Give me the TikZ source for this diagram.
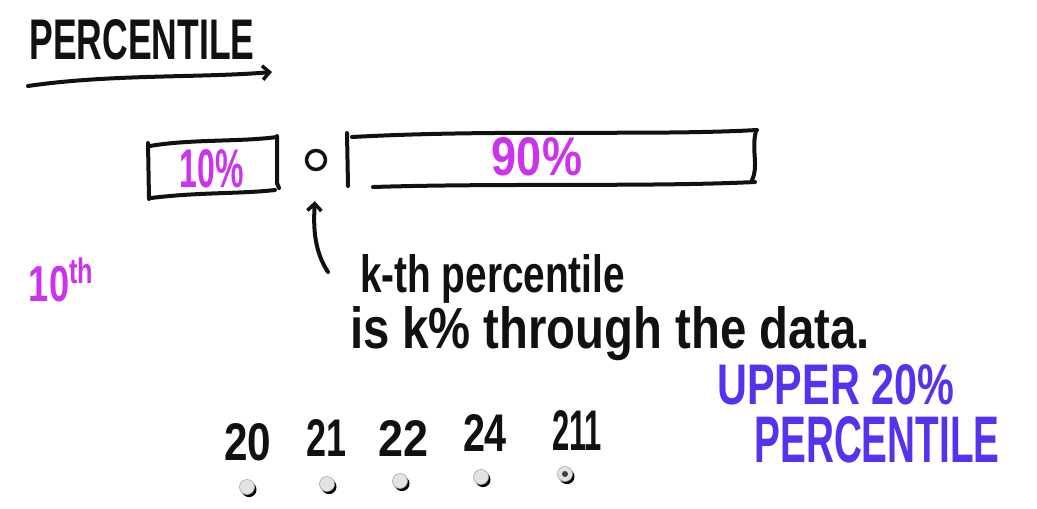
\documentclass[tikz,border=0pt]{standalone}
\usepackage{fontspec}
\setmainfont{Liberation Sans}
\usetikzlibrary{arrows.meta,shadows}
\definecolor{mag}{HTML}{CC33EE}
\definecolor{vio}{HTML}{5533EE}
\definecolor{ink}{HTML}{111111}
\newcommand\fitbox[3]{\resizebox{#1pt}{#2pt}{\bfseries #3}}
\begin{document}
\begin{tikzpicture}[x=1pt,y=-1pt,
  pen/.style={line width=4pt, line cap=round, line join=round, draw=ink},
  txt/.style={inner sep=0pt, outer sep=0pt},
  dotn/.style={circle, fill=gray!22, draw=gray!70, line width=0.6pt, minimum size=15pt, inner sep=0pt,
     drop shadow={shadow xshift=2pt, shadow yshift=-2.6pt, fill=black, opacity=1}},
  barb/.style={-{Straight Barb[length=7pt,width=14pt,line width=3.5pt]}}]
\useasboundingbox (0,0) rectangle (1037,509);
\fill[white] (0,0) rectangle (1037,509);

% title
\node[txt, text=ink] (title) at (142,40) {\fitbox{225}{40}{PERCENTILE}};
\coordinate (ulA) at (28,86);
\coordinate (ulB) at (272,72);
\draw[pen, barb] (ulA) .. controls (110,74) and (200,78) .. (ulB);

% left box (10%)
\node[txt, text=mag] (ten) at (212,169) {\fitbox{64}{38}{10\%}};
\draw[pen] (148,143) -- (149,199);
\draw[pen] (150,146) .. controls (190,139) and (240,142) .. (277,137);
\draw[pen] (277,136) -- (277,183) -- (279,188);
\draw[pen] (151,198) .. controls (200,192) and (240,194) .. (275,190);

% point marker
\node[circle, draw=ink, line width=3.5pt, minimum size=19pt, inner sep=0pt] (circ) at (316,160) {};
\draw[pen] (347,133) -- (348,186);

% right box (90%)
\node[txt, text=mag] (ninety) at (537,157) {\fitbox{90}{38}{90\%}};
\draw[pen] (352,137) .. controls (500,129) and (650,136) .. (757,130);
\draw[pen] (756,131) .. controls (751,150) and (759,166) .. (752,180);
\draw[pen] (373,187) .. controls (500,183) and (650,187) .. (755,182);

% arrow and explanation
\coordinate (atail) at (328,272);
\draw[pen, barb, shorten >=30pt] (atail) .. controls (312,248) and (314,220) .. (circ.south);
\node[txt, text=ink, anchor=base west] (l1) at (360,292) {\fitbox{265}{38}{k-th percentile}};
\node[txt, text=ink, anchor=base west] (l2) at (350,348) {\fitbox{520}{42}{is k\% through the data.}};

% 10th
\node[txt, text=mag] (tenth) at (62,280) {\fitbox{66}{44}{10\textsuperscript{th}}};

% data values
\node[txt, text=ink] (n1) at (248,442) {\fitbox{47}{37}{20}};
\node[txt, text=ink] (n2) at (327,438) {\fitbox{40}{37}{21}};
\node[txt, text=ink] (n3) at (404,438) {\fitbox{50}{36}{22}};
\node[txt, text=ink] (n4) at (485,433) {\fitbox{44}{37}{24}};
\node[txt, text=ink] (n5) at (577,430) {\fitbox{50}{40}{211}};

\node[dotn] (d1) at (247,487) {};
\node[dotn] (d2) at (327,484) {};
\node[dotn] (d3) at (400,481) {};
\node[dotn] (d4) at (481,477) {};
\node[dotn] (d5) at (565,474) {};
\fill[gray!50!black] (d5.center) circle (3pt);

% upper 20% percentile
\node[txt, text=vio] (up1) at (836,385) {\fitbox{237}{40}{UPPER 20\%}};
\node[txt, text=vio] (up2) at (877,440) {\fitbox{245}{46}{PERCENTILE}};
\end{tikzpicture}
\end{document}
